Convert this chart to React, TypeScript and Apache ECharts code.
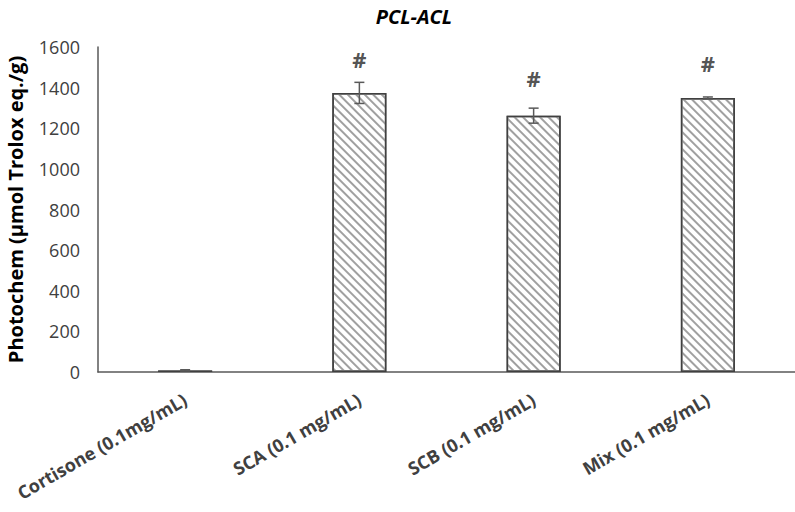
import React, { useEffect, useRef } from 'react';
import * as echarts from 'echarts';

const categories = ['Cortisone (0.1mg/mL)', 'SCA (0.1 mg/mL)', 'SCB (0.1 mg/mL)', 'Mix (0.1 mg/mL)'];
const means = [8, 1374, 1262, 1349];
const errors = [3, 52, 37, 5];
const hashLevels = [null, 1540, 1447, 1521];
const yMin = 0;
const yMax = 1600;
const yStep = 200;
const title = 'PCL-ACL';
const yName = 'Photochem (μmol Trolox eq./g)';

export default function App() {
  const ref = useRef<HTMLDivElement>(null);
  useEffect(() => {
    document.body.style.margin = '0';
    const chart = echarts.init(ref.current!, null, { renderer: 'svg' });
    const axisColor = '#595959';
    chart.setOption({
      animation: false,
      backgroundColor: '#fff',
      title: {
        text: title,
        left: 409,
        textAlign: 'center',
        top: 1,
        textStyle: { fontFamily: 'Open Sans', fontStyle: 'italic', fontWeight: 'bold', fontSize: 20, color: '#000' },
      },
      grid: { left: 98, right: 0, top: 47, bottom: 140, containLabel: false, outerBoundsMode: 'none' },
      xAxis: {
        type: 'category',
        data: categories,
        axisLine: { lineStyle: { color: axisColor, width: 1.5 } },
        axisTick: { show: false },
        axisLabel: {
          rotate: 30,
          interval: 0,
          margin: 26,
          fontFamily: 'Open Sans',
          fontWeight: 'bold',
          fontSize: 18,
          color: '#404040',
        },
      },
      yAxis: {
        type: 'value',
        min: yMin,
        max: yMax,
        interval: yStep,
        name: yName,
        nameLocation: 'middle',
        nameGap: 73,
        nameTextStyle: { fontFamily: 'Open Sans', fontWeight: 'bold', fontSize: 20, color: '#000' },
        axisLine: { show: true, lineStyle: { color: axisColor, width: 1.5 } },
        axisTick: { show: false },
        splitLine: { show: false },
        axisLabel: {
          fontFamily: 'Open Sans',
          fontSize: 18,
          color: '#404040',
          margin: 18,
          formatter: (v: number) => String(v),
        },
      },
      series: [
        {
          type: 'bar',
          data: means,
          barWidth: '31%',
          itemStyle: {
            color: '#fff',
            borderColor: '#404040',
            borderWidth: 1.5,
            decal: {
              symbol: 'rect',
              symbolSize: 1,
              dashArrayX: [1, 0],
              dashArrayY: [2, 4],
              rotation: Math.PI / 4,
              color: '#a0a0a0',
              backgroundColor: '#fff',
            },
          },
          z: 2,
        },
        {
          type: 'custom',
          data: categories.map((c, i) => [i, means[i], errors[i]]),
          encode: { x: 0, y: 1 },
          z: 5,
          renderItem: (params: any, api: any) => {
            const x = api.value(0);
            const m = api.value(1);
            const e = api.value(2);
            const top = api.coord([x, m + e]);
            const bot = api.coord([x, m - e]);
            const hw = 5;
            const st = { stroke: '#595959', lineWidth: 1.5 };
            return {
              type: 'group',
              children: [
                { type: 'line', shape: { x1: top[0], y1: top[1], x2: bot[0], y2: bot[1] }, style: st },
                { type: 'line', shape: { x1: top[0] - hw, y1: top[1], x2: top[0] + hw, y2: top[1] }, style: st },
                { type: 'line', shape: { x1: bot[0] - hw, y1: bot[1], x2: bot[0] + hw, y2: bot[1] }, style: st },
              ],
            };
          },
        },
        {
          type: 'scatter',
          data: hashLevels,
          symbolSize: 1,
          itemStyle: { color: 'rgba(0,0,0,0)' },
          label: {
            show: true,
            position: 'inside',
            formatter: '#',
            fontFamily: 'Noto Sans',
            fontWeight: 'bold',
            fontSize: 22,
            color: '#262626',
          },
          z: 6,
        },
      ],
    });
    return () => chart.dispose();
  }, []);
  return <div ref={ref} style={{ width: 795, height: 512 }} />;
}
